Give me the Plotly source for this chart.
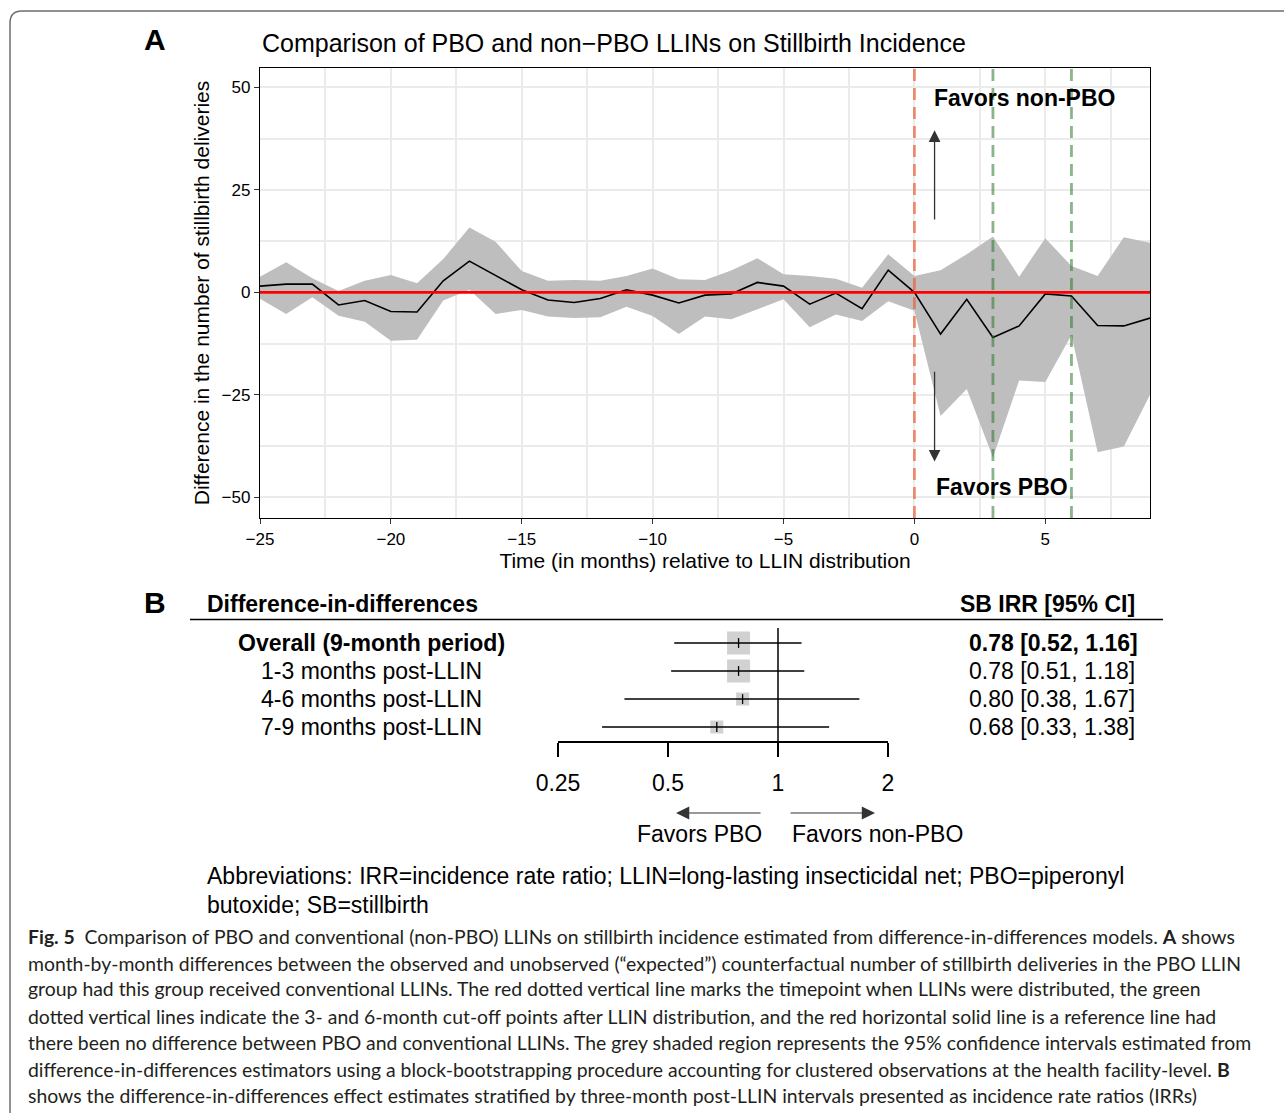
import plotly.graph_objects as go
import math

W, H = 1284, 1113
def X(px): return px / W
def Y(py): return 1 - py / H

# ---------------- Panel A data ----------------
months = list(range(-25, 10))
diff = [1.5, 2.0, 2.0, -3.1, -2.0, -4.7, -4.8, 2.8, 7.6, 4.0, 0.6, -1.9, -2.5,
        -1.5, 0.6, -0.7, -2.6, -0.7, -0.4, 2.4, 1.5, -2.9, -0.2, -4.0, 5.4,
        0.0, -10.2, -1.7, -11.0, -8.2, -0.4, -0.9, -8.1, -8.2, -6.3]
upper = [3.8, 7.3, 3.4, 0.3, 2.8, 4.2, 2.2, 8.1, 15.8, 12.3, 5.2, 2.8, 3.0,
         2.8, 4.0, 5.8, 3.2, 3.0, 5.3, 8.3, 4.4, 4.0, 3.3, 1.1, 9.3,
         4.0, 5.4, 9.3, 13.6, 3.8, 13.2, 6.4, 4.0, 13.4, 12.1]
lower = [-1.6, -5.3, -1.2, -5.7, -7.2, -11.8, -11.6, -2.0, 0.6, -5.3, -4.3, -5.9, -6.3,
         -6.1, -3.5, -5.8, -10.2, -5.9, -6.6, -4.1, -1.7, -8.5, -5.4, -7.0, -2.2,
         -4.5, -30.2, -23.6, -40.3, -21.5, -21.9, -10.4, -39.0, -37.6, -25.0]
x_ticks = [-25, -20, -15, -10, -5, 0, 5]
y_ticks = [-50, -25, 0, 25, 50]
distribution_month = 0
cutoff_months = [3, 6]

# ---------------- Panel B data ----------------
rows = ["Overall (9-month period)", "1-3 months post-LLIN", "4-6 months post-LLIN", "7-9 months post-LLIN"]
est = [0.78, 0.78, 0.80, 0.68]
lo = [0.52, 0.51, 0.38, 0.33]
hi = [1.16, 1.18, 1.67, 1.38]
irr_ticks = [0.25, 0.5, 1, 2]
irr_ticklabels = ["0.25", "0.5", "1", "2"]
box_size = [23, 23, 13, 13]

FONT = "Liberation Sans, Arial, Helvetica, sans-serif"
CAPFONT = "Lato, Open Sans, sans-serif"

fig = go.Figure()

# ribbon
fig.add_trace(go.Scatter(x=months, y=upper, mode="lines", line=dict(width=0),
                         showlegend=False, hoverinfo="skip", xaxis="x", yaxis="y"))
fig.add_trace(go.Scatter(x=months, y=lower, mode="lines", line=dict(width=0),
                         fill="tonexty", fillcolor="#BEBEBE",
                         showlegend=False, hoverinfo="skip", xaxis="x", yaxis="y"))
# estimate line
fig.add_trace(go.Scatter(x=months, y=diff, mode="lines", line=dict(color="black", width=1.6),
                         showlegend=False, xaxis="x", yaxis="y"))
# reference line
fig.add_trace(go.Scatter(x=[months[0], months[-1]], y=[0, 0], mode="lines",
                         line=dict(color="#FF0000", width=2.8), showlegend=False, xaxis="x", yaxis="y"))
# vertical dashed lines
fig.add_vline(x=distribution_month, line=dict(color="rgba(235,95,60,0.7)", width=2.8, dash="12px,7px"))
for cm in cutoff_months:
    fig.add_vline(x=cm, line=dict(color="rgba(40,120,40,0.55)", width=2.8, dash="12px,7px"))

# arrows in panel A
fig.add_annotation(x=0.77, y=39.5, ax=0.77, ay=17.4, xref="x", yref="y", axref="x", ayref="y",
                   text="", showarrow=True, arrowhead=2, arrowsize=1.8, arrowwidth=1.3, arrowcolor="#333")
fig.add_annotation(x=0.77, y=-41.3, ax=0.77, ay=-19.0, xref="x", yref="y", axref="x", ayref="y",
                   text="", showarrow=True, arrowhead=2, arrowsize=1.8, arrowwidth=1.3, arrowcolor="#333")
fig.add_annotation(x=0.69, y=47.5, xref="x", yref="y", text="<b>Favors non-PBO</b>", showarrow=False,
                   xanchor="left", yanchor="middle", font=dict(size=23, color="black", family=FONT))
fig.add_annotation(x=0.73, y=-47.6, xref="x", yref="y", text="<b>Favors PBO</b>", showarrow=False,
                   xanchor="left", yanchor="middle", font=dict(size=23, color="black", family=FONT))

# ---------------- Panel B traces ----------------
ry = [-i for i in range(len(rows))]
fig.add_trace(go.Scatter(x=est, y=ry, mode="markers",
                         marker=dict(symbol="square", size=box_size, color="#BEBEBE", line=dict(width=0)),
                         showlegend=False, xaxis="x2", yaxis="y2"))
for i in range(len(rows)):
    fig.add_trace(go.Scatter(x=[lo[i], hi[i]], y=[ry[i], ry[i]], mode="lines",
                             line=dict(color="black", width=1.3), showlegend=False, xaxis="x2", yaxis="y2"))
fig.add_trace(go.Scatter(x=est, y=ry, mode="markers",
                         marker=dict(symbol="line-ns", size=7, line=dict(width=1.3, color="black")),
                         showlegend=False, xaxis="x2", yaxis="y2"))
fig.add_trace(go.Scatter(x=[1, 1], y=[0.536, -3.5], mode="lines", line=dict(color="black", width=1.5),
                         showlegend=False, xaxis="x2", yaxis="y2"))

# row labels and values
for i, lab in enumerate(rows):
    t = f"<b>{lab}</b>" if i == 0 else lab
    fig.add_annotation(x=X(371), y=ry[i], xref="paper", yref="y2", text=t, showarrow=False,
                       xanchor="center", yanchor="middle", font=dict(size=23, color="black", family=FONT))
    v = f"{est[i]:.2f} [{lo[i]:.2f}, {hi[i]:.2f}]"
    if i == 0:
        v = f"<b>{v}</b>"
    fig.add_annotation(x=X(967), y=ry[i], xref="paper", yref="y2", text=v, showarrow=False,
                       xanchor="left", yanchor="middle", font=dict(size=23, color="black", family=FONT))

# headers
fig.add_annotation(x=X(205), y=Y(604), xref="paper", yref="paper", text="<b>Difference-in-differences</b>",
                   showarrow=False, xanchor="left", yanchor="middle", font=dict(size=23, color="black", family=FONT))
fig.add_annotation(x=X(1137), y=Y(604), xref="paper", yref="paper", text="<b>SB IRR [95% CI]</b>",
                   showarrow=False, xanchor="right", yanchor="middle", font=dict(size=23, color="black", family=FONT))
fig.add_shape(type="line", xref="paper", yref="paper", x0=X(190), x1=X(1163), y0=Y(619.5), y1=Y(619.5),
              line=dict(color="black", width=1.6))

# favors arrows below forest (log axis: annotation x in log10 units)
fig.add_annotation(x=math.log10(0.526), y=Y(813), xref="x2", yref="paper", ax=86, ay=0, text="", showarrow=True,
                   arrowhead=2, arrowsize=2.2, arrowwidth=1.2, arrowcolor="#333")
fig.add_annotation(x=math.log10(1.843), y=Y(813), xref="x2", yref="paper", ax=-86, ay=0, text="", showarrow=True,
                   arrowhead=2, arrowsize=2.2, arrowwidth=1.2, arrowcolor="#333")
fig.add_annotation(x=X(700), y=Y(834), xref="paper", yref="paper", text="Favors PBO", showarrow=False,
                   xanchor="center", yanchor="middle", font=dict(size=23, color="black", family=FONT))
fig.add_annotation(x=X(877), y=Y(834), xref="paper", yref="paper", text="Favors non-PBO", showarrow=False,
                   xanchor="center", yanchor="middle", font=dict(size=23, color="black", family=FONT))

# panel letters, title
fig.add_annotation(x=X(155), y=Y(40), xref="paper", yref="paper", text="<b>A</b>", showarrow=False,
                   xanchor="center", yanchor="middle", font=dict(size=30, color="black", family=FONT))
fig.add_annotation(x=X(155), y=Y(602), xref="paper", yref="paper", text="<b>B</b>", showarrow=False,
                   xanchor="center", yanchor="middle", font=dict(size=30, color="black", family=FONT))
fig.add_annotation(x=X(260), y=Y(43), xref="paper", yref="paper",
                   text="Comparison of PBO and non\u2212PBO LLINs on Stillbirth Incidence", showarrow=False,
                   xanchor="left", yanchor="middle", font=dict(size=25, color="black", family=FONT))

# abbreviations
fig.add_annotation(x=X(205), y=Y(876), xref="paper", yref="paper",
                   text="Abbreviations: IRR=incidence rate ratio; LLIN=long-lasting insecticidal net; PBO=piperonyl",
                   showarrow=False, xanchor="left", yanchor="middle", font=dict(size=23, color="black", family=FONT))
fig.add_annotation(x=X(205), y=Y(905), xref="paper", yref="paper",
                   text="butoxide; SB=stillbirth",
                   showarrow=False, xanchor="left", yanchor="middle", font=dict(size=23, color="black", family=FONT))

# caption
caption = [
    "<b>Fig. 5</b>  Comparison of PBO and conventional (non-PBO) LLINs on stillbirth incidence estimated from difference-in-differences models. <b>A</b> shows",
    "month-by-month differences between the observed and unobserved (\u201cexpected\u201d) counterfactual number of stillbirth deliveries in the PBO LLIN",
    "group had this group received conventional LLINs. The red dotted vertical line marks the timepoint when LLINs were distributed, the green",
    "dotted vertical lines indicate the 3- and 6-month cut-off points after LLIN distribution, and the red horizontal solid line is a reference line had",
    "there been no difference between PBO and conventional LLINs. The grey shaded region represents the 95% confidence intervals estimated from",
    "difference-in-differences estimators using a block-bootstrapping procedure accounting for clustered observations at the health facility-level. <b>B</b>",
    "shows the difference-in-differences effect estimates stratified by three-month post-LLIN intervals presented as incidence rate ratios (IRRs)",
]
cap_y = [936, 963, 989, 1016, 1042, 1069, 1095]
for t, yy in zip(caption, cap_y):
    fig.add_annotation(x=X(26), y=Y(yy), xref="paper", yref="paper", text=t, showarrow=False,
                       xanchor="left", yanchor="middle", font=dict(size=19.4, color="#231F20", family=CAPFONT))

# outer frame
r = 12
path = (f"M {X(10)},{Y(1113)} L {X(10)},{Y(11 + r)} Q {X(10)},{Y(11)} {X(10 + r)},{Y(11)} L {X(1284)},{Y(11)}")
fig.add_shape(type="path", path=path, xref="paper", yref="paper", line=dict(color="#6E6E6E", width=1.5))

fig.update_layout(
    width=W, height=H, margin=dict(l=0, r=0, t=0, b=0, autoexpand=False),
    paper_bgcolor="white", plot_bgcolor="white", showlegend=False,
    font=dict(family=FONT, color="black"),
    xaxis=dict(domain=[X(260), X(1150)], range=[-25, 9], anchor="y", automargin=False,
               tickvals=x_ticks, ticks="outside", ticklen=5, tickcolor="#333", tickwidth=1.2,
               showline=True, linecolor="black", linewidth=1.3, mirror=True,
               showgrid=True, gridcolor="#EBEBEB", gridwidth=1.6, zeroline=False,
               minor=dict(dtick=2.5, tick0=-25, showgrid=True, gridcolor="#EBEBEB", gridwidth=1.6, ticks=""),
               tickfont=dict(size=17, color="black"),
               title=dict(text="Time (in months) relative to LLIN distribution", font=dict(size=21, color="black"), standoff=2)),
    yaxis=dict(domain=[Y(518), Y(68)], range=[-55.05, 54.7], anchor="x", automargin=False,
               tickvals=y_ticks, ticks="outside", ticklen=5, tickcolor="#333", tickwidth=1.2,
               showline=True, linecolor="black", linewidth=1.3, mirror=True,
               showgrid=True, gridcolor="#EBEBEB", gridwidth=1.6, zeroline=False,
               minor=dict(dtick=12.5, tick0=0, showgrid=True, gridcolor="#EBEBEB", gridwidth=1.6, ticks=""),
               tickfont=dict(size=17, color="black"),
               title=dict(text="Difference in the number of stillbirth deliveries", font=dict(size=21, color="black"), standoff=6)),
    xaxis2=dict(domain=[X(558), X(888)], type="log", range=[math.log10(0.25), math.log10(2)], anchor="y2",
                automargin=False,
                tickvals=irr_ticks, ticktext=irr_ticklabels, ticks="outside", ticklen=14, tickcolor="black",
                tickwidth=1.5, showline=True, linecolor="black", linewidth=1.5, showgrid=False, zeroline=False,
                ticklabelstandoff=7,
                tickfont=dict(size=23, color="black")),
    yaxis2=dict(domain=[Y(741), Y(615)], range=[-3.5, 1], anchor="x2", visible=False, automargin=False),
)

fig.write_html("out.html", config={"displayModeBar": False},
               post_script="document.body.style.margin='0';")
